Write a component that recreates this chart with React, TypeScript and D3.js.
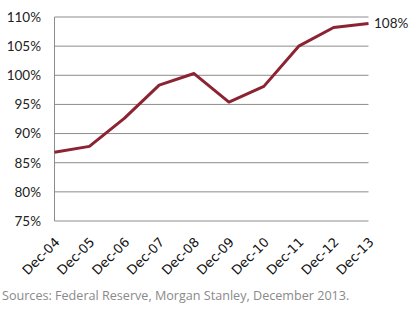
import React from "react";
import * as d3 from "d3";

const categories = ["Dec-04","Dec-05","Dec-06","Dec-07","Dec-08","Dec-09","Dec-10","Dec-11","Dec-12","Dec-13"];
const values = [86.8, 87.8, 92.6, 98.3, 100.3, 95.4, 98.1, 105.0, 108.2, 108.9];
const yTicks = [75, 80, 85, 90, 95, 100, 105, 110];
const endLabel = "108%";
const sourceText = "Sources: Federal Reserve, Morgan Stanley, December 2013.";

export default function App() {
  const W = 414, H = 311;
  const left = 54.5, right = 368.5, top = 17, bottom = 221;
  const x = d3.scalePoint<string>().domain(categories).range([left, right]);
  const y = d3.scaleLinear().domain([75, 110]).range([bottom, top]);
  const line = d3.line<number>().x((_, i) => x(categories[i])!).y(d => y(d));
  const last = values[values.length - 1];
  return (
    <svg width={W} height={H} style={{ position: "absolute", left: 0, top: 0, background: "#fff" }}>
      {yTicks.map(t => (
        <g key={t}>
          <line x1={left} x2={right} y1={y(t)} y2={y(t)} stroke="#8c8c8c" strokeWidth={1} />
          <text x={41} y={y(t)} dy="0.36em" textAnchor="end" fontFamily="Lato" fontSize={13.5} fill="#222">{t}%</text>
        </g>
      ))}
      <line x1={left} x2={left} y1={top} y2={bottom} stroke="#8c8c8c" strokeWidth={1} />
      {categories.map(c => (
        <text key={c} transform={`translate(${x(c)! + 6},${bottom + 22}) rotate(-45)`} textAnchor="end"
          fontFamily="DejaVu Sans" fontSize={13} fill="#111">{c}</text>
      ))}
      <path d={line(values) ?? ""} fill="none" stroke="#8b2332" strokeWidth={3} strokeLinejoin="round" />
      <text x={374} y={y(last)} dy="0.36em" fontFamily="Lato" fontSize={13.5} fill="#222">{endLabel}</text>
      <text x={2} y={300} fontFamily="Open Sans" fontSize={12.6} fill="#8a8a8a">{sourceText}</text>
    </svg>
  );
}
